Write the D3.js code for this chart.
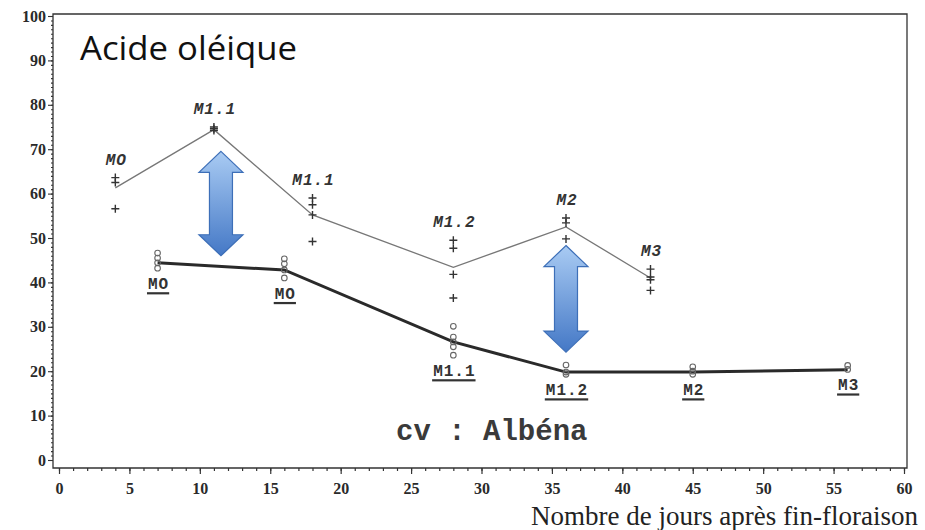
<!DOCTYPE html>
<html>
<head>
<meta charset="utf-8">
<script src="https://cdn.jsdelivr.net/npm/d3@7"></script>
<style>
  html, body { margin: 0; padding: 0; background: #fff; }
  svg { display: block; }
</style>
</head>
<body>
<svg id="chart" width="925" height="530"></svg>
<script>
// Days after end of flowering, stage labels, line values and individual measurements
const upperDays   = [4, 11, 18, 28, 36, 42];
const upperLabels = ["MO", "M1.1", "M1.1", "M1.2", "M2", "M3"];
const upperLine   = [61.3, 74.4, 55.2, 43.4, 52.5, 41.0];
const upperReps   = [
  [63.6, 62.5, 56.6],
  [75.0, 74.6, 74.2],
  [59.0, 57.5, 55.2, 49.2],
  [49.5, 47.7, 41.8, 36.5],
  [54.5, 53.4, 49.8],
  [43.0, 41.2, 40.6, 38.2]
];

const lowerDays   = [7, 16, 28, 36, 45, 56];
const lowerLabels = ["MO", "MO", "M1.1", "M1.2", "M2", "M3"];
const lowerLine   = [44.4, 42.8, 26.6, 19.8, 19.8, 20.3];
const lowerReps   = [
  [46.6, 45.5, 44.4, 43.2],
  [45.3, 44.2, 42.8, 41.0],
  [30.1, 27.7, 26.6, 25.5, 23.6],
  [21.4, 19.8, 19.3],
  [21.0, 20.0, 19.3],
  [21.3, 20.4]
];

// Double arrows: day, top value, bottom value
const arrowDays = [11.5, 36];
const arrowTop  = [69.5, 48.3];
const arrowBot  = [46.0, 24.3];

const xTicks = d3.range(0, 61, 5);
const yTicks = d3.range(0, 101, 10);

const svg = d3.select("#chart");
const x = d3.scaleLinear().domain([0, 60]).range([59, 904]);
const y = d3.scaleLinear().domain([0, 100]).range([460, 16]);

const frame = { left: 53, right: 907, top: 14, bottom: 468 };

// Frame
svg.append("path")
  .attr("d", `M${frame.left},${frame.top}H${frame.right}V${frame.bottom}H${frame.left}Z`)
  .attr("fill", "none").attr("stroke", "#333").attr("stroke-width", 1.3);

const serif = "'Liberation Serif', 'DejaVu Serif', serif";
const mono = "'Liberation Mono', 'DejaVu Sans Mono', monospace";

// X axis: minor ticks every day, major every 5
const xMinor = svg.append("g").attr("transform", `translate(0,${frame.bottom})`)
  .call(d3.axisBottom(x).tickValues(d3.range(0, 61, 1)).tickSize(3).tickFormat(""));
const xMajor = svg.append("g").attr("transform", `translate(0,${frame.bottom})`)
  .call(d3.axisBottom(x).tickValues(xTicks).tickSize(6).tickPadding(9).tickFormat(d3.format("d")));
[xMinor, xMajor].forEach(g => {
  g.select(".domain").remove();
  g.selectAll("line").attr("stroke", "#333").attr("stroke-width", 1.2);
});
xMajor.selectAll("text").attr("font-family", serif).attr("font-size", 16)
  .attr("font-weight", "bold").attr("fill", "#2a2a2a");

// Y axis: minor ticks every unit, major every 10
const yMinor = svg.append("g").attr("transform", `translate(${frame.left},0)`)
  .call(d3.axisLeft(y).tickValues(d3.range(0, 101, 1)).tickSize(2).tickFormat(""));
const yMajor = svg.append("g").attr("transform", `translate(${frame.left},0)`)
  .call(d3.axisLeft(y).tickValues(yTicks).tickSize(5).tickPadding(2).tickFormat(d3.format("d")));
[yMinor, yMajor].forEach(g => {
  g.select(".domain").remove();
  g.selectAll("line").attr("stroke", "#333").attr("stroke-width", 1.1);
});
yMajor.selectAll("text").attr("font-family", serif).attr("font-size", 16)
  .attr("font-weight", "bold").attr("fill", "#2a2a2a");

// X axis title
svg.append("text")
  .attr("x", 918).attr("y", 525).attr("text-anchor", "end")
  .attr("font-family", serif).attr("font-size", 27).attr("fill", "#222")
  .text("Nombre de jours après fin-floraison");

// Chart title
svg.append("text")
  .attr("x", 80).attr("y", 60)
  .attr("font-family", "'Open Sans', 'Noto Sans', sans-serif").attr("font-size", 33)
  .attr("textLength", 217).attr("lengthAdjust", "spacingAndGlyphs")
  .attr("fill", "#111")
  .text("Acide oléique");

// Upper series: thin grey line with crosses
const line = d3.line().x(d => x(d[0])).y(d => y(d[1]));
svg.append("path")
  .datum(upperDays.map((d, i) => [d, upperLine[i]]))
  .attr("d", line).attr("fill", "none").attr("stroke", "#777").attr("stroke-width", 1.3);

const crossPts = upperDays.flatMap((d, i) => upperReps[i].map(v => [d, v]));
svg.append("g").selectAll("path").data(crossPts).join("path")
  .attr("d", d => `M${x(d[0]) - 4},${y(d[1])}h8M${x(d[0])},${y(d[1]) - 4}v8`)
  .attr("stroke", "#333").attr("stroke-width", 1.4).attr("fill", "none");

svg.append("g").selectAll("text").data(upperDays).join("text")
  .attr("x", (d, i) => x(d) + 1)
  .attr("y", (d, i) => y(d3.max(upperReps[i])) - 13)
  .attr("text-anchor", "middle")
  .attr("font-family", mono).attr("font-size", 16).attr("font-weight", "bold")
  .attr("font-style", "italic").attr("letter-spacing", 1).attr("fill", "#333")
  .text((d, i) => upperLabels[i]);

// Lower series: thick dark line with open circles
svg.append("path")
  .datum(lowerDays.map((d, i) => [d, lowerLine[i]]))
  .attr("d", line).attr("fill", "none").attr("stroke", "#2a2a2a").attr("stroke-width", 3);

const circPts = lowerDays.flatMap((d, i) => lowerReps[i].map(v => [d, v]));
svg.append("g").selectAll("circle").data(circPts).join("circle")
  .attr("cx", d => x(d[0])).attr("cy", d => y(d[1])).attr("r", 2.8)
  .attr("fill", "none").attr("stroke", "#666").attr("stroke-width", 1.1);

const lowLab = svg.append("g").selectAll("g").data(lowerDays).join("g")
  .attr("transform", (d, i) => `translate(${x(d) + 1},${y(d3.min(lowerReps[i])) + 21})`);
lowLab.append("text")
  .attr("text-anchor", "middle")
  .attr("font-family", mono).attr("font-size", 16).attr("font-weight", "bold")
  .attr("letter-spacing", 1).attr("fill", "#333")
  .text((d, i) => lowerLabels[i]);
lowLab.each(function () {
  const t = d3.select(this).select("text").node();
  const w = t.getComputedTextLength();
  d3.select(this).append("rect")
    .attr("x", -w / 2 - 1).attr("y", 3).attr("width", w + 1).attr("height", 2.2)
    .attr("fill", "#333");
});

// Cultivar label
svg.append("text")
  .attr("x", 396).attr("y", 440)
  .attr("font-family", mono).attr("font-size", 29).attr("font-weight", "bold")
  .attr("fill", "#3a3a3a")
  .text("cv : Albéna");

// Blue double-headed arrows
const defs = svg.append("defs");
const grad = defs.append("linearGradient").attr("id", "arrowFill")
  .attr("x1", 0).attr("y1", 0).attr("x2", 0).attr("y2", 1);
grad.append("stop").attr("offset", "0%").attr("stop-color", "#a9cbf3");
grad.append("stop").attr("offset", "100%").attr("stop-color", "#4478c6");

svg.append("g").selectAll("path").data(arrowDays).join("path")
  .attr("d", (d, i) => {
    const cx = x(d), t = y(arrowTop[i]), b = y(arrowBot[i]);
    const hw = 22, sw = 11.5, hl = 21;
    return `M${cx},${t}L${cx + hw},${t + hl}L${cx + sw},${t + hl}L${cx + sw},${b - hl}` +
      `L${cx + hw},${b - hl}L${cx},${b}L${cx - hw},${b - hl}L${cx - sw},${b - hl}` +
      `L${cx - sw},${t + hl}L${cx - hw},${t + hl}Z`;
  })
  .attr("fill", "url(#arrowFill)").attr("stroke", "#3d6fb8").attr("stroke-width", 1.2);
</script>
</body>
</html>
